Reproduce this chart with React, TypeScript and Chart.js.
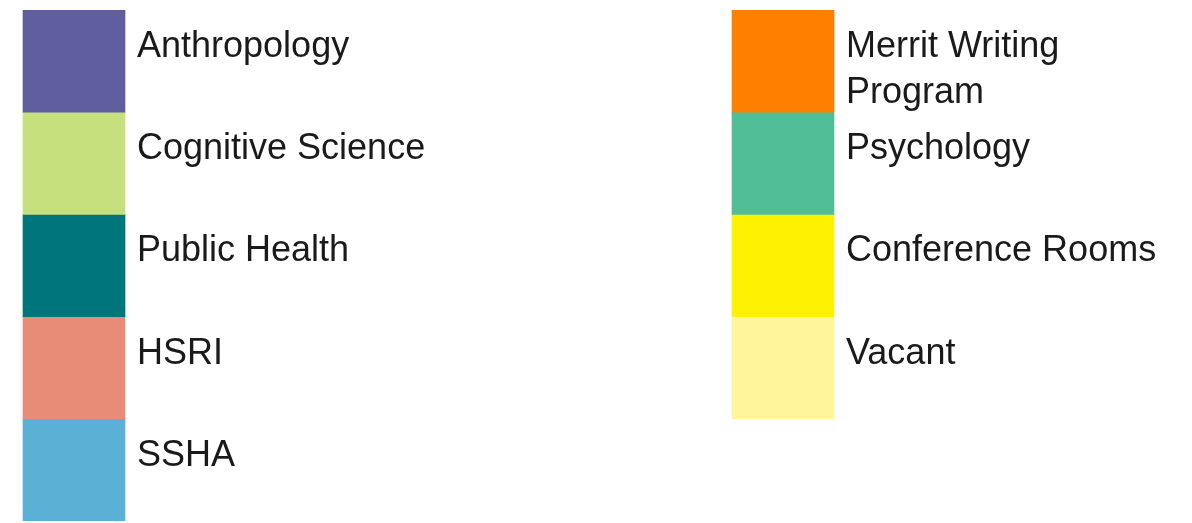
import React, { useEffect, useRef } from "react";
import { Chart, registerables } from "chart.js";

Chart.register(...registerables);

const leftLabels = ["Anthropology", "Cognitive Science", "Public Health", "HSRI", "SSHA"];
const leftColors = ["#605E9E", "#C6E07E", "#00757A", "#E98C77", "#5BB1D5"];
const rightLabels = ["Merrit Writing\nProgram", "Psychology", "Conference Rooms", "Vacant"];
const rightColors = ["#FF8000", "#52BE97", "#FFF200", "#FFF59A"];
const columns = [0, 1];

const FONT = '36px "Liberation Sans", Arial, sans-serif';

const labelPlugin = {
  id: "swatchLabels",
  afterDatasetsDraw(chart: any) {
    const ctx = chart.ctx;
    ctx.save();
    ctx.font = FONT;
    ctx.fillStyle = "#1a1a1a";
    ctx.textBaseline = "alphabetic";
    ctx.textAlign = "left";
    chart.data.datasets.forEach((ds: any, i: number) => {
      const meta = chart.getDatasetMeta(i);
      const el = meta.data[0];
      if (!el) return;
      const p = el.getProps(["x", "y", "base", "width"], true);
      const top = Math.min(p.y, p.base);
      const tx = p.x + p.width / 2 + 12;
      const lines = String(ds.label).split("\n");
      lines.forEach((line: string, k: number) => {
        ctx.fillText(line, tx, top + 47 + k * 46);
      });
    });
    ctx.restore();
  },
};

export default function App() {
  const ref = useRef<HTMLCanvasElement>(null);
  useEffect(() => {
    if (!ref.current) return;
    const datasets: any[] = [];
    leftLabels.forEach((label, i) => {
      datasets.push({
        label,
        data: [{ x: columns[0], y: [i, i + 1] }],
        backgroundColor: leftColors[i],
        borderWidth: 0,
      });
    });
    rightLabels.forEach((label, i) => {
      datasets.push({
        label,
        data: [{ x: columns[1], y: [i, i + 1] }],
        backgroundColor: rightColors[i],
        borderWidth: 0,
      });
    });
    const chart = new Chart(ref.current, {
      type: "bar",
      data: { datasets },
      options: {
        animation: false,
        responsive: false,
        maintainAspectRatio: false,
        layout: { padding: { top: 10, bottom: 2, left: 0, right: 0 } },
        datasets: { bar: { grouped: false, barThickness: 102 } } as any,
        plugins: { legend: { display: false }, tooltip: { enabled: false } },
        scales: {
          x: { type: "linear", display: false, offset: false, min: -74 / 709, max: (1192 - 74) / 709 },
          y: { type: "linear", display: false, reverse: true, min: 0, max: 5 },
        },
      },
      plugins: [labelPlugin],
    });
    return () => chart.destroy();
  }, []);
  return (
    <div style={{ position: "fixed", left: 0, top: 0, width: 1192, height: 523, background: "#fff" }}>
      <canvas ref={ref} width={1192} height={523} style={{ display: "block", width: 1192, height: 523 }} />
    </div>
  );
}
